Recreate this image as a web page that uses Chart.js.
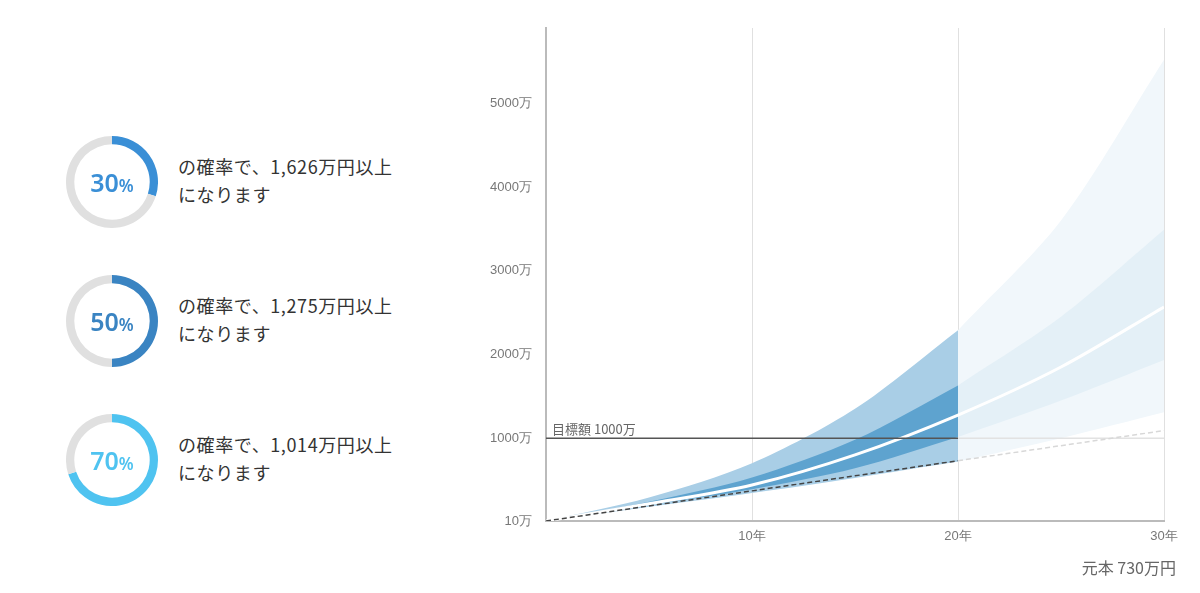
<!DOCTYPE html>
<html><head><meta charset="utf-8">
<script src="https://cdn.jsdelivr.net/npm/chart.js@4"></script>
<style>
body{margin:0;width:1200px;height:593px;background:#fff;font-family:"Noto Sans CJK JP","Noto Sans",sans-serif;position:relative;overflow:hidden}
.ring{position:absolute;left:66px;width:92px;height:92px}
.pct{position:absolute;left:66px;width:92px;text-align:center;font-family:"Noto Sans";font-weight:600;font-size:25px;line-height:92px}
.pct small{font-size:17px}
.desc{position:absolute;left:178px;font-size:18px;letter-spacing:0.6px;color:#333;line-height:28px}
#wrap{position:absolute;left:470px;top:0;width:730px;height:593px}
#gensen{position:absolute;right:24px;top:555px;font-size:16px;color:#666}
</style></head><body>
<div id="rings"></div>
<div id="wrap"><canvas id="c"></canvas></div>
<div id="gensen">元本 730万円</div>
<script>
const probs = [30, 50, 70];
const amounts = ['1,626', '1,275', '1,014'];
const ringColors = ['#3a8fd6', '#3a84c2', '#4fc3f0'];

const years = [0, 5, 10, 15, 20, 25, 30];
const outerTop = [10, 290, 700, 1350, 2290, 3600, 5520];
const darkTop = [10, 240, 530, 980, 1630, 2450, 3490];
const median = [10, 215, 440, 800, 1276, 1850, 2567];
const darkBottom = [10, 200, 390, 640, 1014, 1450, 1935];
const outerBottom = [10, 180, 345, 525, 720, 1000, 1310];
const principal = [10, 190, 370, 550, 730, 910, 1090];
const target = 1000;
const yTicks = [10, 1000, 2000, 3000, 4000, 5000];
const xTicks = [10, 20, 30];

const rings = document.getElementById('rings');
probs.forEach((p, i) => {
  const top = 136 + i * 139;
  rings.insertAdjacentHTML('beforeend',
    `<div class="ring" style="top:${top}px"><canvas id="r${i}"></canvas></div>
     <div class="pct" style="top:${top}px;color:${ringColors[i]}">${p}<small>%</small></div>
     <div class="desc" style="top:${top + 16}px">の確率で、${amounts[i]}万円以上<br>になります</div>`);
  new Chart(document.getElementById('r' + i), {
    type: 'doughnut',
    data: { datasets: [{ data: [p, 100 - p], backgroundColor: [ringColors[i], '#e0e0e0'], borderWidth: 0 }] },
    options: { responsive: true, maintainAspectRatio: false, cutout: '82%', animation: false,
      plugins: { legend: { display: false }, tooltip: { enabled: false } } }
  });
});

const pts = (arr, from, to) => years.map((x, i) => ({ x, y: arr[i] })).filter(p => p.x >= from && p.x <= to);
const band = (arr, from, to, fillTo, color) => ({ data: pts(arr, from, to), borderWidth: 0, pointRadius: 0,
  fill: fillTo, backgroundColor: color, tension: 0.3 });
const line = (arr, from, to, color, w, dash) => ({ data: pts(arr, from, to), borderColor: color, borderWidth: w,
  borderDash: dash || [], pointRadius: 0, fill: false, tension: 0.3 });

const datasets = [
  band(outerBottom, 0, 20, false, 'transparent'),              // 0
  band(outerTop, 0, 20, 0, '#a9cee6'),                          // 1
  band(darkBottom, 0, 20, false, 'transparent'),               // 2
  band(darkTop, 0, 20, 2, '#5ea3cf'),                           // 3
  band(outerBottom, 20, 30, false, 'transparent'),             // 4
  band(outerTop, 20, 30, 4, '#f1f7fb'),                         // 5
  band(darkBottom, 20, 30, false, 'transparent'),              // 6
  band(darkTop, 20, 30, 6, '#e4f0f7'),                          // 7
  line(median, 0, 30, '#ffffff', 3),
  { data: [{ x: 0, y: target }, { x: 20, y: target }], borderColor: '#555', borderWidth: 1.5, pointRadius: 0 },
  { data: [{ x: 20, y: target }, { x: 30, y: target }], borderColor: '#e2e2e2', borderWidth: 1.5, pointRadius: 0 },
  line(principal, 0, 20, '#444', 1.5, [5, 3]),
  line(principal, 20, 30, '#d8d8d8', 1.5, [5, 3])
];
// later datasets are painted on top
datasets.forEach((d, i) => { d.order = datasets.length - i; });
datasets.slice(-2).forEach(d => { d.tension = 0; });

const targetLabel = {
  id: 'targetLabel',
  afterDatasetsDraw(chart) {
    const { ctx, scales: { x, y } } = chart;
    ctx.save();
    ctx.font = '13px "Noto Sans CJK JP"';
    ctx.fillStyle = '#666';
    ctx.textBaseline = 'bottom';
    ctx.fillText('目標額 1000万', x.getPixelForValue(0) + 6, y.getPixelForValue(target) - 3);
    ctx.restore();
  }
};

new Chart(document.getElementById('c'), {
  type: 'line',
  data: { datasets },
  plugins: [targetLabel],
  options: {
    responsive: true, maintainAspectRatio: false, animation: false,
    layout: { padding: { top: 28, right: 36, bottom: 42, left: 0 } },
    plugins: { legend: { display: false }, tooltip: { enabled: false } },
    scales: {
      x: {
        type: 'linear', min: 0, max: 30,
        afterBuildTicks: s => { s.ticks = xTicks.map(v => ({ value: v })); },
        afterFit: s => { s.height = 30; },
        ticks: { callback: v => v + '年', color: '#777', font: { size: 13 }, maxRotation: 0, padding: 8 },
        grid: { color: '#e0e0e0', drawTicks: false },
        border: { color: '#bbb', width: 2 }
      },
      y: {
        min: 10, max: 5900,
        afterBuildTicks: s => { s.ticks = yTicks.map(v => ({ value: v })); },
        afterFit: s => { s.width = 76; },
        ticks: { callback: v => v + '万', color: '#777', font: { size: 13 }, padding: 6 },
        grid: { display: false },
        border: { color: '#bbb', width: 2 }
      }
    }
  }
});
</script>
</body></html>
